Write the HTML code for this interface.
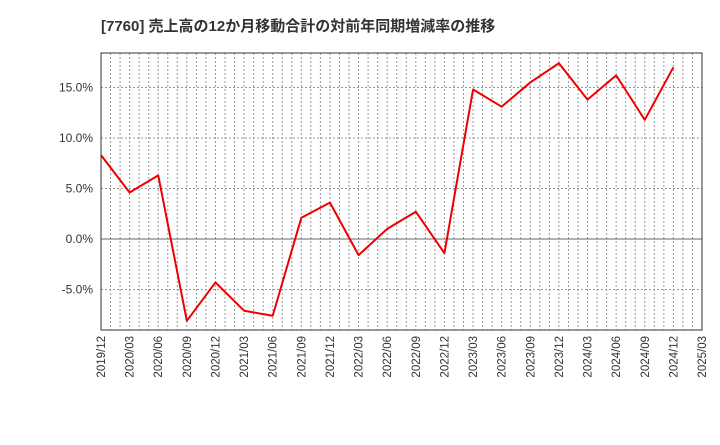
<!DOCTYPE html>
<html><head><meta charset="utf-8"><style>
body{margin:0;background:#fff;width:720px;height:440px;overflow:hidden}
text{font-family:"Liberation Sans","Noto Sans CJK JP",sans-serif}
</style></head><body>
<svg id="chart" width="720" height="440" xmlns="http://www.w3.org/2000/svg">
<text x="101" y="31" font-size="15" font-weight="bold" fill="#333">[7760]  売上高の12か月移動合計の対前年同期増減率の推移</text>
<g id="grid"></g><g id="axes"></g><g id="series"></g>
</svg>
<script>
const categories=["2019/12","2020/03","2020/06","2020/09","2020/12","2021/03","2021/06","2021/09","2021/12","2022/03","2022/06","2022/09","2022/12","2023/03","2023/06","2023/09","2023/12","2024/03","2024/06","2024/09","2024/12","2025/03"];
const values=[8.3,4.6,6.3,-8.1,-4.3,-7.1,-7.6,2.1,3.6,-1.6,1.0,2.7,-1.4,14.8,13.1,15.5,17.4,13.8,16.2,11.8,17.0];
const yTicks=[-5,0,5,10,15];
const yTickLabels=["-5.0%","0.0%","5.0%","10.0%","15.0%"];
const L=101,R=702,T=53,B=330;
const x=i=>L+(R-L)*i/(categories.length-1);
const y=v=>239-v*10.1;
const NS="http://www.w3.org/2000/svg";
function mk(tag,attrs,parent){const e=document.createElementNS(NS,tag);for(const k in attrs)e.setAttribute(k,attrs[k]);parent.appendChild(e);return e;}
const grid=document.getElementById('grid'),axes=document.getElementById('axes'),series=document.getElementById('series');
for(let m=1;m<(categories.length-1)*3;m++){const xx=L+(R-L)*m/((categories.length-1)*3);
const ln=mk('line',{x1:xx,x2:xx,y1:T,y2:B,stroke:'#999','stroke-width':1,'stroke-dasharray':'2,2'},grid);

}
yTicks.forEach((v,i)=>{const yy=y(v);
const ln=mk('line',{x1:L,x2:R,y1:yy,y2:yy,stroke:v===0?'#666':'#999','stroke-width':1,'stroke-dasharray':v===0?'none':'2,2'},grid);


const t=mk('text',{x:L-8,y:yy+4,'text-anchor':'end','font-size':12,fill:'#333'},axes);t.textContent=yTickLabels[i];

});
const fr=mk('rect',{x:L,y:T,width:R-L,height:B-T,fill:'none',stroke:'#333','stroke-width':1},axes);


categories.forEach((c,i)=>{const xx=x(i);
const t=mk('text',{x:0,y:0,'text-anchor':'end','font-size':11.5,fill:'#333',transform:`translate(${xx+4},${B+6}) rotate(-90)`},axes);t.textContent=c;

});
const pts=values.map((v,i)=>x(i)+','+y(v)).join(' ');
const pl=mk('polyline',{points:pts,fill:'none',stroke:'#e00','stroke-width':2,'stroke-linejoin':'round'},series);


</script>
</body></html>
